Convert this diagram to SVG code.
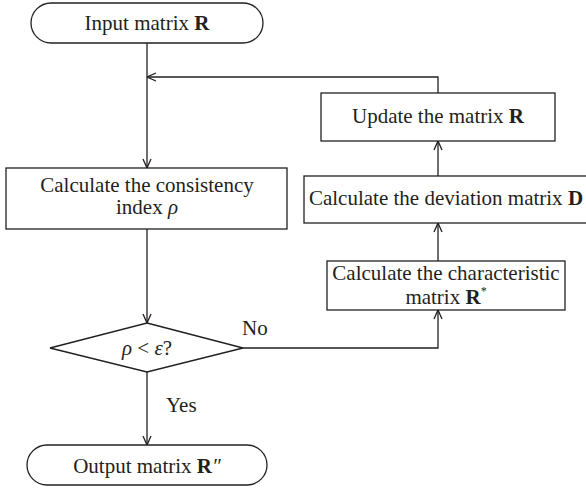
<svg xmlns="http://www.w3.org/2000/svg" width="586" height="490" viewBox="0 0 586 490">
<defs>
<marker id="ah" viewBox="0 0 10 10" refX="10" refY="5" markerWidth="10" markerHeight="10" markerUnits="userSpaceOnUse" orient="auto">
<path d="M1,1 L10,5 L1,9" fill="none" stroke="#231f20" stroke-width="1.3"/>
</marker>
<style>
.s{fill:#fff;stroke:#231f20;stroke-width:1.3}
.t{font-family:"Liberation Serif","Times New Roman",serif;font-size:21px;fill:#231f20}
.c{text-anchor:middle}
.b{font-weight:bold}
.i{font-style:italic}
.l{fill:none;stroke:#231f20;stroke-width:1.3}
</style>
</defs>
<rect width="586" height="490" fill="#fff"/>
<g id="connectors">
<line class="l" x1="147" y1="43" x2="147" y2="168" marker-end="url(#ah)"/>
<polyline class="l" points="438,93 438,77 147,77" marker-end="url(#ah)"/>
<line class="l" x1="147" y1="229" x2="147" y2="323" marker-end="url(#ah)"/>
<line class="l" x1="147" y1="372" x2="147" y2="445" marker-end="url(#ah)"/>
<polyline class="l" points="243,348 438,348 438,310" marker-end="url(#ah)"/>
<line class="l" x1="438" y1="261" x2="438" y2="223" marker-end="url(#ah)"/>
<line class="l" x1="438" y1="176" x2="438" y2="141" marker-end="url(#ah)"/>
<text class="t" x="242" y="335">No</text>
<text class="t" x="166" y="412">Yes</text>
</g>
<g id="input">
<rect class="s" x="31" y="3" width="232" height="40" rx="20"/>
<text class="t c" x="147" y="30">Input matrix <tspan class="b">R</tspan></text>
</g>
<g id="consistency">
<rect class="s" x="6" y="168" width="281" height="61"/>
<text class="t c" x="147" y="192">Calculate the consistency</text>
<text class="t c" x="147" y="214">index <tspan class="i">ρ</tspan></text>
</g>
<g id="decision">
<polygon class="s" points="147,323 243,348 147,372 50,348"/>
<text class="t c" x="147" y="355"><tspan class="i">ρ</tspan> &lt; <tspan class="i">ε</tspan>?</text>
</g>
<g id="output">
<rect class="s" x="27" y="445" width="240" height="40" rx="20"/>
<text class="t c" x="147" y="473">Output matrix <tspan class="b">R</tspan><tspan class="i">″</tspan></text>
</g>
<g id="update">
<rect class="s" x="321" y="93" width="234" height="48"/>
<text class="t c" x="438" y="123">Update the matrix <tspan class="b">R</tspan></text>
</g>
<g id="deviation">
<rect class="s" x="304" y="176" width="290" height="47"/>
<text class="t c" x="446" y="205">Calculate the deviation matrix <tspan class="b">D</tspan></text>
</g>
<g id="characteristic">
<rect class="s" x="327" y="261" width="238" height="49"/>
<text class="t c" x="446" y="280">Calculate the characteristic</text>
<text class="t c" x="446" y="304">matrix <tspan class="b">R</tspan><tspan font-size="12" dy="-9">*</tspan></text>
</g>
</svg>
